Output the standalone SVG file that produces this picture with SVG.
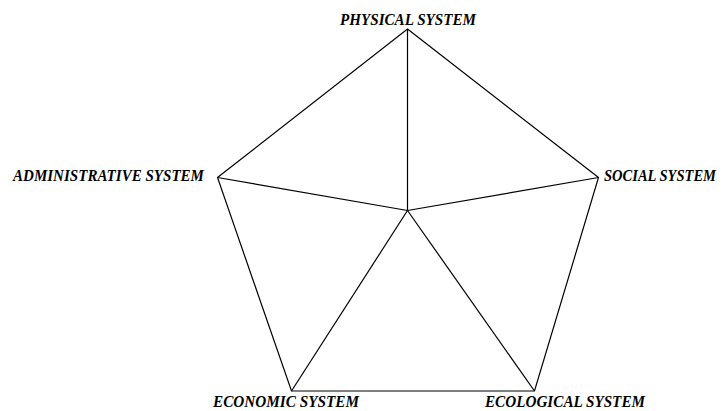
<svg xmlns="http://www.w3.org/2000/svg" width="722" height="411" viewBox="0 0 722 411">
<style>
.lbl{font-family:"Liberation Serif","Times New Roman",serif;font-style:italic;font-weight:bold;font-size:16px;fill:#000}
.ln{stroke:#000;stroke-width:1.2;fill:none}
</style>
<rect width="722" height="411" fill="#fff"/>
<g id="connectors">
<polygon class="ln" points="407.5,29 598.5,177.5 534.5,391 291.5,391 217.5,177.5"/>
<line class="ln" x1="407.5" y1="210.5" x2="407.5" y2="29"/>
<line class="ln" x1="407.5" y1="210.5" x2="598.5" y2="177.5"/>
<line class="ln" x1="407.5" y1="210.5" x2="534.5" y2="391"/>
<line class="ln" x1="407.5" y1="210.5" x2="291.5" y2="391"/>
<line class="ln" x1="407.5" y1="210.5" x2="217.5" y2="177.5"/>
</g>
<g id="physical"><text class="lbl" x="340" y="25" textLength="136" lengthAdjust="spacingAndGlyphs">PHYSICAL SYSTEM</text></g>
<g id="social"><text class="lbl" x="604" y="181" textLength="112" lengthAdjust="spacingAndGlyphs">SOCIAL SYSTEM</text></g>
<g id="ecological"><text class="lbl" x="485" y="407" textLength="160" lengthAdjust="spacingAndGlyphs">ECOLOGICAL SYSTEM</text></g>
<g id="economic"><text class="lbl" x="213" y="407" textLength="146" lengthAdjust="spacingAndGlyphs">ECONOMIC SYSTEM</text></g>
<g id="administrative"><text class="lbl" x="13" y="181" textLength="191" lengthAdjust="spacingAndGlyphs">ADMINISTRATIVE SYSTEM</text></g>
</svg>
